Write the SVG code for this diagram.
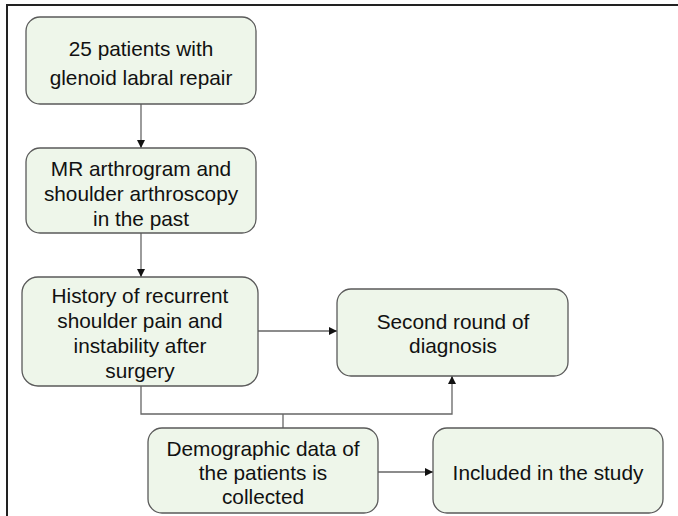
<svg xmlns="http://www.w3.org/2000/svg" width="678" height="516" viewBox="0 0 678 516">
<style>
.box{fill:#eef6ea;stroke:#5a5a5a;stroke-width:1.3}
.t{font-family:"Liberation Sans",Arial,sans-serif;font-size:20.8px;fill:#111;text-anchor:middle;dominant-baseline:central}
.c{fill:none;stroke:#666;stroke-width:1.3}
</style>
<defs>
<marker id="ah" viewBox="0 0 10 10" refX="10" refY="5" markerWidth="8" markerHeight="8" markerUnits="userSpaceOnUse" orient="auto">
<path d="M0,0 L10,5 L0,10 z" fill="#111"/>
</marker>
</defs>
<rect width="678" height="516" fill="#fff"/>
<path d="M7,516 V5 H678" fill="none" stroke="#222" stroke-width="2"/>
<g id="connectors">
<path class="c" d="M141,104 V148" marker-end="url(#ah)"/>
<path class="c" d="M141,233 V277" marker-end="url(#ah)"/>
<path class="c" d="M258,331 H337" marker-end="url(#ah)"/>
<path class="c" d="M141,386 V414 H452 V376" marker-end="url(#ah)"/>
<path class="c" d="M283,414 V428"/>
<path class="c" d="M378,472 H433" marker-end="url(#ah)"/>
</g>
<g id="n1">
<rect class="box" x="26" y="17" width="230" height="87" rx="14"/>
<text class="t" x="141" y="48">25 patients with</text>
<text class="t" x="141" y="77">glenoid labral repair</text>
</g>
<g id="n2">
<rect class="box" x="26" y="148" width="230" height="85" rx="14"/>
<text class="t" x="141" y="168">MR arthrogram and</text>
<text class="t" x="141" y="193">shoulder arthroscopy</text>
<text class="t" x="141" y="218">in the past</text>
</g>
<g id="n3">
<rect class="box" x="22" y="277" width="236" height="109" rx="16"/>
<text class="t" x="140" y="295">History of recurrent</text>
<text class="t" x="140" y="320">shoulder pain and</text>
<text class="t" x="140" y="345">instability after</text>
<text class="t" x="140" y="370">surgery</text>
</g>
<g id="n4">
<rect class="box" x="337" y="289" width="231" height="87" rx="14"/>
<text class="t" x="453" y="321">Second round of</text>
<text class="t" x="453" y="345">diagnosis</text>
</g>
<g id="n5">
<rect class="box" x="148" y="428" width="230" height="85" rx="14"/>
<text class="t" x="263" y="448">Demographic data of</text>
<text class="t" x="263" y="472">the patients is</text>
<text class="t" x="263" y="496">collected</text>
</g>
<g id="n6">
<rect class="box" x="433" y="428" width="230" height="85" rx="14"/>
<text class="t" x="548" y="472">Included in the study</text>
</g>
</svg>
